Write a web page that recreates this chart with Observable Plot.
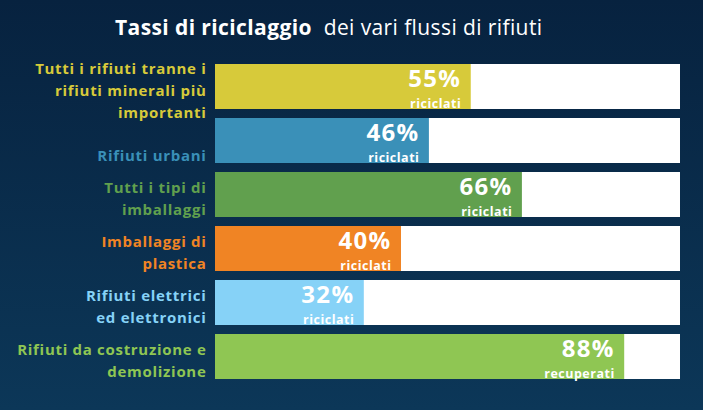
<!DOCTYPE html>
<html><head><meta charset="utf-8">
<script src="https://cdn.jsdelivr.net/npm/d3@7"></script>
<script src="https://cdn.jsdelivr.net/npm/@observablehq/plot@0.6"></script>
<style>
html,body{margin:0;padding:0;}
#wrap{width:703px;height:410px;background:linear-gradient(#07223f,#0c3758);font-family:"Open Sans",sans-serif;overflow:hidden;}
#title{height:50px;box-sizing:border-box;padding-top:16px;padding-left:115px;color:#fff;font-size:21px;line-height:22px;letter-spacing:0.4px;white-space:nowrap;}
#title b{font-weight:bold;}
</style></head><body>
<div id="wrap"><div id="title"><b>Tassi di riciclaggio</b>&nbsp; dei vari flussi di rifiuti</div><div id="chart"></div></div>
<script>
const categories = ["all", "urban", "packaging", "plastic", "weee", "construction"];
const labels = [
  "Tutti i rifiuti tranne i\nrifiuti minerali più\nimportanti",
  "\nRifiuti urbani",
  "Tutti i tipi di\nimballaggi",
  "Imballaggi di\nplastica",
  "Rifiuti elettrici\ned elettronici",
  "Rifiuti da costruzione e\ndemolizione"
];
const values = [55, 46, 66, 40, 32, 88];
const notes = ["riciclati", "riciclati", "riciclati", "riciclati", "riciclati", "recuperati"];
const colors = ["#d7ca3a", "#3a90b8", "#61a04e", "#f08424", "#86d2f7", "#8fc653"];
const fullScale = [100, 100, 100, 100, 100, 100];

const data = categories.map((c, i) => ({cat: c, label: labels[i], value: values[i], note: notes[i], color: colors[i], full: fullScale[i]}));

const chart = Plot.plot({
  width: 703, height: 360,
  marginLeft: 215, marginRight: 23, marginTop: 12, marginBottom: 28,
  style: {background: "transparent", fontFamily: "'Open Sans', sans-serif"},
  x: {domain: [0, 100], axis: null},
  y: {domain: categories, axis: null, paddingInner: 0.165, paddingOuter: 0},
  color: {type: "identity"},
  marks: [
    Plot.barX(data, {y: "cat", x: "full", fill: "white"}),
    Plot.barX(data, {y: "cat", x: "value", fill: d => d.color}),
    Plot.text(data, {y: "cat", x: "value", text: d => d.value + "%", textAnchor: "end", lineAnchor: "bottom", dx: -10, dy: 0, fill: "white", fontSize: 24, fontWeight: "bold"}),
    Plot.text(data, {y: "cat", x: "value", text: "note", textAnchor: "end", lineAnchor: "bottom", dx: -10, dy: 20.5, fill: "white", fontSize: 12.5, fontWeight: "bold"}),
    Plot.text(data, {y: "cat", x: 0, text: "label", textAnchor: "end", dx: -9, dy: 2, fill: d => d.color, fontSize: 15, fontWeight: "bold", lineHeight: 1.47})
  ]
});
const textGroups = d3.select(chart).selectAll('g[aria-label="text"]').nodes();
d3.select(textGroups[0]).style("letter-spacing", "1.3px");
d3.select(textGroups[1]).style("letter-spacing", "0.5px");
d3.select(textGroups[2]).style("letter-spacing", "0.7px");
document.getElementById("chart").appendChild(chart);
</script>
</body></html>
